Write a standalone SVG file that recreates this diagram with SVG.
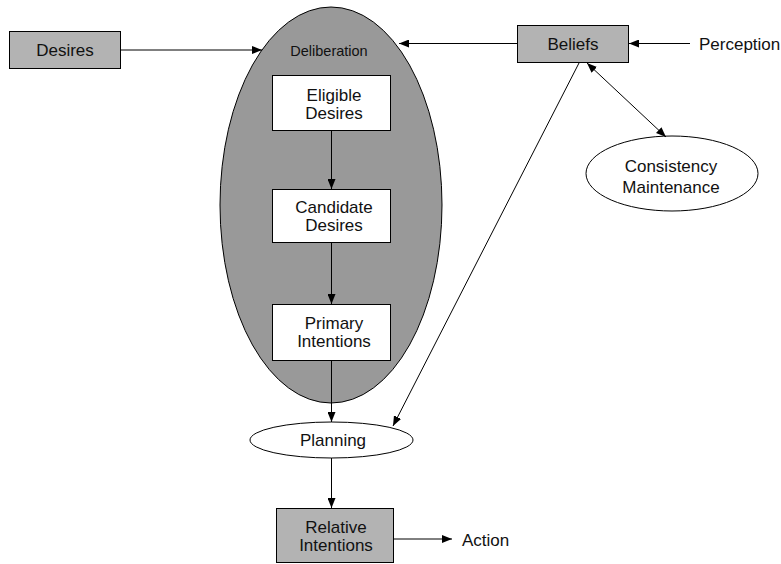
<svg xmlns="http://www.w3.org/2000/svg" width="781" height="564" viewBox="0 0 781 564">
  <defs>
    <marker id="arrow" viewBox="0 0 10 8" refX="10" refY="4" markerWidth="10" markerHeight="8" markerUnits="userSpaceOnUse" orient="auto-start-reverse">
      <path d="M0,0 L10,4 L0,8 Z" fill="#000"/>
    </marker>
    <style>
      text { font-family: "Liberation Sans", Arial, sans-serif; font-size: 17px; fill: #111; text-anchor: middle; }
      .small { font-size: 14.5px; }
      .left { text-anchor: start; }
      .gray { fill: #b3b3b3; stroke: #000; stroke-width: 1; }
      .white { fill: #fff; stroke: #000; stroke-width: 1; }
      .edge { fill: none; stroke: #000; stroke-width: 1; marker-end: url(#arrow); }
      .both { marker-start: url(#arrow); }
    </style>
  </defs>
  <rect width="781" height="564" fill="#fff"/>

  <g id="deliberation">
    <ellipse cx="331" cy="205" rx="111" ry="198" fill="#999999" stroke="#000"/>
    <text class="small" x="329" y="56">Deliberation</text>
  </g>

  <g id="desires">
    <rect class="gray" x="9.5" y="31.5" width="111" height="37"/>
    <text x="65" y="56">Desires</text>
  </g>

  <g id="beliefs">
    <rect class="gray" x="517.5" y="25.5" width="111" height="37"/>
    <text x="573" y="50">Beliefs</text>
  </g>

  <g id="perception">
    <text class="left" x="699" y="50">Perception</text>
  </g>

  <g id="eligible-desires">
    <rect class="white" x="272.5" y="75.5" width="118" height="55"/>
    <text x="334" y="100.5">Eligible</text>
    <text x="334" y="118.5">Desires</text>
  </g>

  <g id="candidate-desires">
    <rect class="white" x="272.5" y="189.5" width="118" height="53"/>
    <text x="334" y="213">Candidate</text>
    <text x="334" y="231">Desires</text>
  </g>

  <g id="primary-intentions">
    <rect class="white" x="272.5" y="304.5" width="118" height="56"/>
    <text x="334" y="329">Primary</text>
    <text x="334" y="347">Intentions</text>
  </g>

  <g id="consistency-maintenance">
    <ellipse class="white" cx="672" cy="173.5" rx="86" ry="37.5"/>
    <text x="671" y="172">Consistency</text>
    <text x="671" y="193">Maintenance</text>
  </g>

  <g id="planning">
    <ellipse class="white" cx="331.5" cy="440" rx="81.5" ry="18"/>
    <text x="333" y="446">Planning</text>
  </g>

  <g id="relative-intentions">
    <rect class="gray" x="276.5" y="508.5" width="117" height="54"/>
    <text x="336" y="533">Relative</text>
    <text x="336" y="551">Intentions</text>
  </g>

  <g id="action">
    <text class="left" x="462" y="546">Action</text>
  </g>

  <g id="connectors">
    <line class="edge" x1="121" y1="50" x2="262" y2="50"/>
    <line class="edge" x1="517" y1="43.5" x2="399" y2="43.5"/>
    <line class="edge" x1="690" y1="43.5" x2="629" y2="43.5"/>
    <line class="edge" x1="331.5" y1="131" x2="331.5" y2="189"/>
    <line class="edge" x1="331.5" y1="243" x2="331.5" y2="304"/>
    <line class="edge" x1="331.5" y1="361" x2="331.5" y2="422"/>
    <line class="edge" x1="331.5" y1="458" x2="331.5" y2="508"/>
    <line class="edge" x1="394" y1="539" x2="452" y2="539"/>
    <line class="edge" x1="579" y1="63" x2="393" y2="426"/>
    <line class="edge both" x1="587" y1="63" x2="666" y2="137"/>
  </g>
</svg>
